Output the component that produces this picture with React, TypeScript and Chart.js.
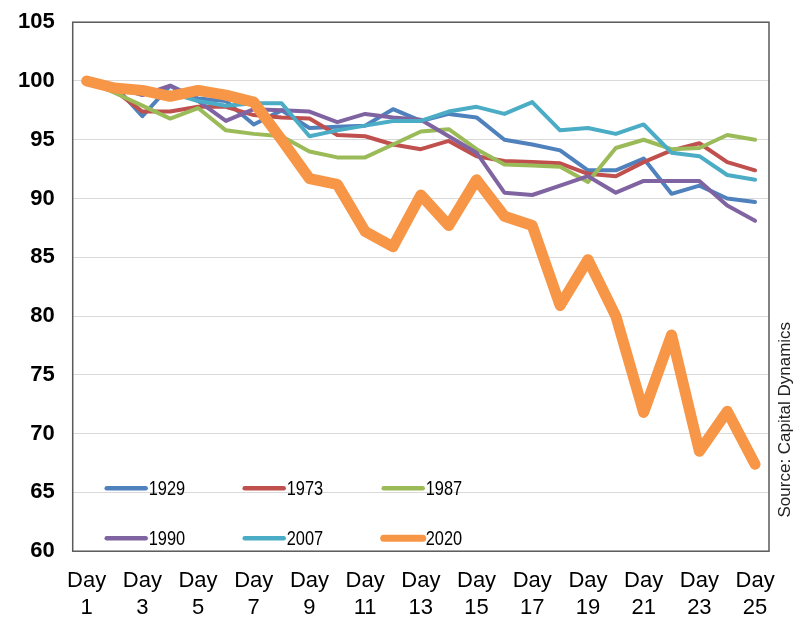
import React, { useEffect, useRef } from "react";
import { Chart, registerables } from "chart.js";

Chart.register(...registerables);

const days = [
  "Day 1", "Day 2", "Day 3", "Day 4", "Day 5", "Day 6", "Day 7", "Day 8", "Day 9", "Day 10",
  "Day 11", "Day 12", "Day 13", "Day 14", "Day 15", "Day 16", "Day 17", "Day 18", "Day 19", "Day 20",
  "Day 21", "Day 22", "Day 23", "Day 24", "Day 25",
];

const s1929 = [100, 99.6, 97.0, 99.6, 98.5, 98.3, 96.3, 97.5, 96.0, 96.1, 96.2, 97.6, 96.6, 97.2, 96.9, 95.0, 94.6, 94.1, 92.4, 92.4, 93.4, 90.4, 91.1, 90.0, 89.7];
const s1973 = [100, 99.2, 97.4, 97.4, 97.8, 97.8, 97.1, 96.9, 96.8, 95.4, 95.3, 94.6, 94.2, 94.9, 93.6, 93.2, 93.1, 93.0, 92.1, 91.9, 93.1, 94.1, 94.7, 93.1, 92.4];
const s1987 = [100, 99.0, 97.9, 96.8, 97.7, 95.8, 95.5, 95.3, 94.0, 93.5, 93.5, 94.6, 95.7, 95.9, 94.2, 92.9, 92.8, 92.7, 91.4, 94.3, 95.0, 94.2, 94.3, 95.4, 95.0];
const s1990 = [100, 99.5, 98.8, 99.6, 98.3, 96.6, 97.6, 97.5, 97.4, 96.5, 97.2, 96.9, 96.7, 95.3, 93.9, 90.5, 90.3, 91.1, 91.9, 90.5, 91.5, 91.5, 91.5, 89.4, 88.1];
const s2007 = [100, 99.6, 99.2, 99.0, 98.3, 97.9, 98.1, 98.1, 95.3, 95.8, 96.2, 96.6, 96.6, 97.4, 97.8, 97.2, 98.2, 95.8, 96.0, 95.5, 96.3, 93.9, 93.6, 92.0, 91.6];
const s2020 = [100, 99.4, 99.2, 98.7, 99.2, 98.8, 98.2, 95.0, 91.7, 91.2, 87.2, 85.9, 90.3, 87.7, 91.6, 88.5, 87.7, 80.9, 84.8, 80.0, 71.8, 78.4, 68.5, 71.9, 67.4];

const seriesNames = ["1929", "1973", "1987", "1990", "2007", "2020"];
const seriesColors = ["#4F81BD", "#C0504D", "#9BBB59", "#8064A2", "#4BACC6", "#F79646"];
const seriesData = [s1929, s1973, s1987, s1990, s2007, s2020];

const yMin = 60;
const yMax = 105;
const yStep = 5;
const sourceText = "Source: Capital Dynamics";

export default function App() {
  const ref = useRef<HTMLCanvasElement | null>(null);

  useEffect(() => {
    document.body.style.margin = "0";
    const canvas = ref.current;
    if (!canvas) return;

    const overlay = {
      id: "overlay",
      afterDatasetsDraw(chart: any) {
        const { ctx, chartArea } = chart;
        const { left, top, right, bottom } = chartArea;
        ctx.save();
        // border
        ctx.strokeStyle = "#595959";
        ctx.lineWidth = 1.5;
        ctx.strokeRect(left, top, right - left, bottom - top);

        // legend inside plot area
        const colX = [left + 34, left + 172, left + 311];
        const rowY = [bottom - 63, bottom - 13];
        seriesNames.forEach((name, i) => {
          const cx = colX[i % 3];
          const cy = rowY[Math.floor(i / 3)];
          ctx.strokeStyle = seriesColors[i];
          ctx.lineWidth = name === "2020" ? 7 : 4.5;
          ctx.lineCap = "round";
          ctx.beginPath();
          ctx.moveTo(cx, cy);
          ctx.lineTo(cx + 39, cy);
          ctx.stroke();
          ctx.save();
          ctx.translate(cx + 42, cy + 1);
          ctx.scale(0.78, 1);
          ctx.font = '21px "Liberation Sans", Arial, sans-serif';
          ctx.textBaseline = "middle";
          ctx.textAlign = "left";
          ctx.fillStyle = "#000";
          ctx.fillText(name, 0, 0);
          ctx.restore();
        });

        // source text (rotated)
        ctx.translate(right + 16, (top + bottom) / 2 + 133);
        ctx.rotate(-Math.PI / 2);
        ctx.font = '17px "Liberation Sans", Arial, sans-serif';
        ctx.fillStyle = "#222";
        ctx.textAlign = "center";
        ctx.textBaseline = "middle";
        ctx.fillText(sourceText, 0, 0);
        ctx.restore();
      },
    };

    const chart = new Chart(canvas, {
      type: "line",
      data: {
        labels: days,
        datasets: seriesData.map((d, i) => ({
          label: seriesNames[i],
          data: d,
          borderColor: seriesColors[i],
          backgroundColor: seriesColors[i],
          borderWidth: seriesNames[i] === "2020" ? 11 : 4,
          pointRadius: 0,
          tension: 0,
          fill: false,
          borderJoinStyle: "round" as const,
          borderCapStyle: "round" as const,
          order: seriesNames.length - 1 - i,
        })),
      },
      options: {
        animation: false,
        responsive: false,
        maintainAspectRatio: false,
        layout: { padding: { left: 0, right: 24, top: 3, bottom: 0 } },
        plugins: {
          legend: { display: false },
          tooltip: { enabled: false },
        },
        scales: {
          x: {
            type: "category",
            offset: true,
            grid: { display: false, drawTicks: false },
            border: { display: false },
            ticks: {
              autoSkip: false,
              maxRotation: 0,
              minRotation: 0,
              padding: 17,
              color: "#000",
              font: { family: '"Liberation Sans", Arial, sans-serif', size: 22, lineHeight: 1.2 },
              callback: (_v: any, index: number) =>
                index % 2 === 0 ? days[index].split(" ") : "",
            },
          },
          y: {
            min: yMin,
            max: yMax,
            grid: { color: "#D9D9D9", lineWidth: 1, drawTicks: false },
            border: { display: false },
            ticks: {
              stepSize: yStep,
              padding: 18,
              color: "#000",
              font: { family: '"Liberation Sans", Arial, sans-serif', size: 22, weight: "bold" },
            },
          },
        },
      },
      plugins: [overlay],
    });

    return () => chart.destroy();
  }, []);

  return (
    <div style={{ width: 793, height: 624, overflow: "hidden", position: "relative" }}>
      <canvas
        ref={ref}
        width={793}
        height={647}
        style={{ display: "block", position: "absolute", left: 0, top: -9 }}
      />
    </div>
  );
}
